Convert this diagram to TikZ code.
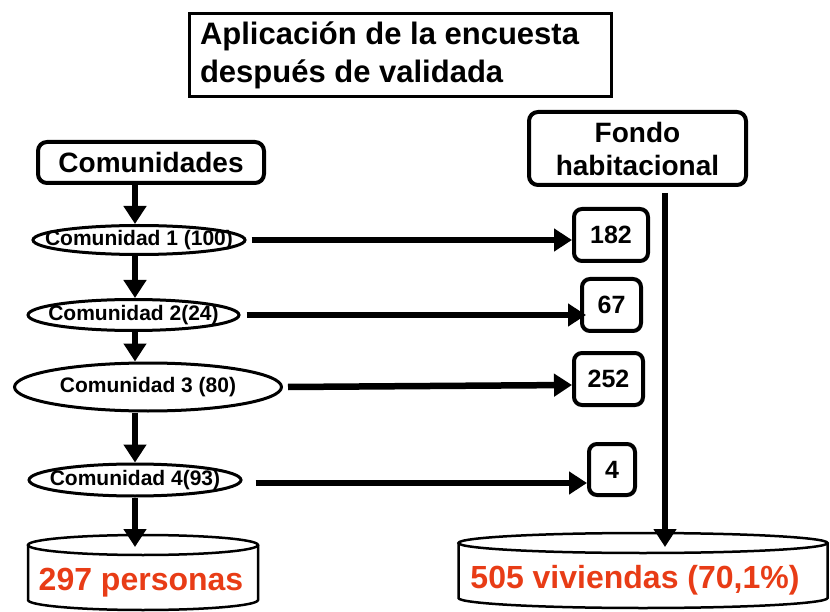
\documentclass[tikz,border=0pt]{standalone}
\usepackage{fontspec}
\setmainfont{Liberation Sans}
\usetikzlibrary{arrows.meta,shapes.geometric,calc}
\definecolor{redtxt}{RGB}{232,60,22}
\begin{document}
\begin{tikzpicture}[x=1pt,y=-1pt,
  box/.style={draw,line width=4pt,rounded corners=9pt,font=\bfseries\fontsize{28}{33}\selectfont,align=center,inner sep=0pt},
  comell/.style={draw,ellipse,line width=3pt,inner sep=0pt,font=\bfseries\fontsize{21}{24}\selectfont},
  numbox/.style={draw,line width=4pt,rounded corners=8pt,inner sep=0pt,font=\bfseries\fontsize{25}{28}\selectfont},
  arr/.style={line width=6.5pt,-{Triangle[width=22pt,length=18pt]}},
  cyl/.style={draw,line width=2.5pt},
  big/.style={font=\bfseries\fontsize{32}{36}\selectfont,text=redtxt}]
\useasboundingbox (0,0) rectangle (830,612);

% title
\node[draw,line width=3pt,minimum width=422pt,minimum height=83pt,inner sep=0pt] (title) at (400.5,55)
  {\parbox{401pt}{\bfseries\fontsize{31}{38}\selectfont Aplicación de la encuesta\\después de validada}};

% headers
\node[box,minimum width=226pt,minimum height=41pt] (com) at (151,162.5) {Comunidades};
\node[box,minimum width=217pt,minimum height=73pt] (fondo) at (637.5,148.5) {Fondo\\habitacional};

% communities
\node[comell,minimum width=212pt,minimum height=29pt] (e1) at (139,240) {\makebox[0pt]{Comunidad 1 (100)}};
\node[comell,minimum width=211pt,minimum height=31pt] (e2) at (133.5,315) {\makebox[0pt]{Comunidad 2(24)}};
\node[comell,minimum width=267pt,minimum height=48pt] (e3) at (148,387) {\makebox[0pt]{Comunidad 3 (80)}};
\node[comell,minimum width=212pt,minimum height=32pt] (e4) at (135,480) {\makebox[0pt]{Comunidad 4(93)}};

% number boxes
\node[numbox,minimum width=74pt,minimum height=52pt] (n182) at (611,235) {182};
\node[numbox,minimum width=59pt,minimum height=52pt] (n67) at (611.5,305) {67};
\node[numbox,minimum width=69pt,minimum height=52pt] (n252) at (608.5,379) {252};
\node[numbox,minimum width=46pt,minimum height=51pt] (n4) at (612,469.5) {4};

% cylinders
\draw[cyl] (28,545) -- (28,600) arc[start angle=180,end angle=360,x radius=115pt,y radius=10pt] -- (258,545);
\draw[cyl] (143,545) ellipse[x radius=115pt,y radius=10pt];
\node[big] (p297) at (141,583) {297 personas};

\draw[cyl] (458.5,543) -- (458.5,598) arc[start angle=180,end angle=360,x radius=184.5pt,y radius=10pt] -- (827.5,543);
\draw[cyl] (643,543) ellipse[x radius=184.5pt,y radius=10pt];
\node[big] (v505) at (635,580) {505 viviendas (70,1\%)};

\coordinate (ltop) at (135,547);
\coordinate (rtop) at (665,547);
\coordinate (vstart) at (665,193);

% vertical arrows
\draw[arr] (com.south -| ltop) -- (e1.north -| ltop);
\draw[arr] (e1.south -| ltop) -- (e2.north -| ltop);
\draw[arr] (e2.south -| ltop) -- (e3.north -| ltop);
\draw[arr] (e3.south -| ltop) -- (e4.north -| ltop);
\draw[arr] (e4.south -| ltop) -- (ltop);
\draw[arr] (vstart) -- (rtop);

% horizontal arrows
\draw[arr] ([xshift=5pt]e1.east) -- (e1.east -| n182.west);
\draw[arr] ([xshift=6pt]e2.east) -- ([xshift=6pt]e2.east -| n67.west);
\draw[arr] ([xshift=5pt]e3.east) -- ([yshift=2pt]e3.east -| n252.west);
\draw[arr] ([xshift=13pt,yshift=-3pt]e4.east) -- ([yshift=-3pt]e4.east -| n4.west);
\end{tikzpicture}
\end{document}
